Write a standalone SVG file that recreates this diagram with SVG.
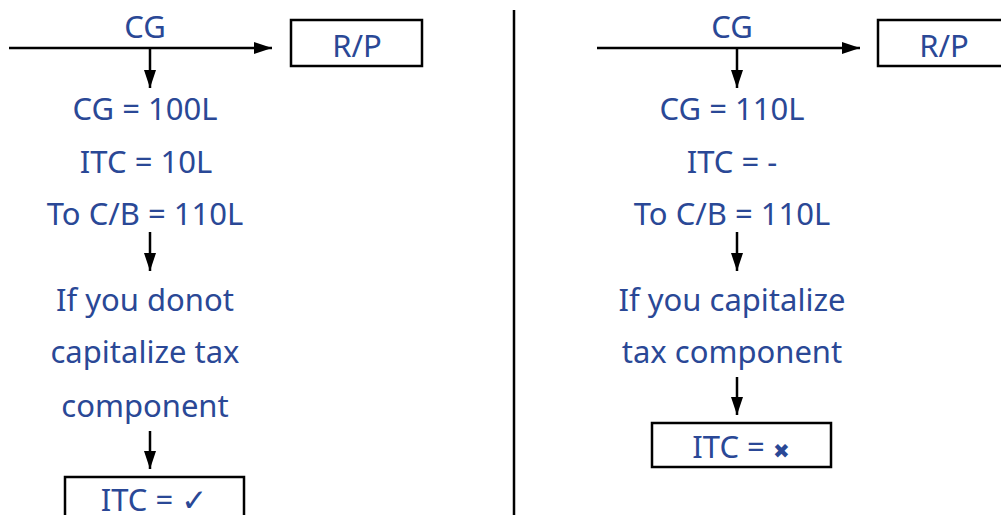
<svg xmlns="http://www.w3.org/2000/svg" width="1001" height="515" viewBox="0 0 1001 515">
<style>
.t{font-family:"Noto Sans","DejaVu Sans",sans-serif;font-size:31px;fill:#2a4896;text-anchor:middle}
.ln{stroke:#000;stroke-width:2.5;fill:none}
.bx{stroke:#000;stroke-width:2.5;fill:#fff}
</style>
<defs>
<marker id="ah" viewBox="0 0 18 12" refX="18" refY="6" markerWidth="18" markerHeight="12" markerUnits="userSpaceOnUse" orient="auto">
<path d="M0,0 L18,6 L0,12 Z" fill="#000"/>
</marker>
</defs>
<g id="connectors">
<line class="ln" x1="9" y1="48" x2="272" y2="48" marker-end="url(#ah)"/>
<line class="ln" x1="150" y1="48" x2="150" y2="88" marker-end="url(#ah)"/>
<line class="ln" x1="150" y1="232" x2="150" y2="271" marker-end="url(#ah)"/>
<line class="ln" x1="150" y1="431" x2="150" y2="469" marker-end="url(#ah)"/>
<line class="ln" x1="597" y1="48" x2="860" y2="48" marker-end="url(#ah)"/>
<line class="ln" x1="737" y1="48" x2="737" y2="88" marker-end="url(#ah)"/>
<line class="ln" x1="737" y1="232" x2="737" y2="271" marker-end="url(#ah)"/>
<line class="ln" x1="737" y1="377" x2="737" y2="415" marker-end="url(#ah)"/>
<line class="ln" x1="514" y1="10" x2="514" y2="515"/>
</g>
<g id="left-cg"><text class="t" x="145" y="38">CG</text></g>
<g id="left-rp"><rect class="bx" x="291" y="20" width="131" height="46"/><text class="t" x="357" y="57">R/P</text></g>
<g id="left-calc">
<text class="t" x="145" y="120">CG = 100L</text>
<text class="t" x="146" y="173">ITC = 10L</text>
<text class="t" x="145" y="225">To C/B = 110L</text>
</g>
<g id="left-cond">
<text class="t" x="145" y="311">If you donot</text>
<text class="t" x="145" y="363">capitalize tax</text>
<text class="t" x="145" y="417">component</text>
</g>
<g id="left-result"><rect class="bx" x="65" y="477" width="179" height="50"/><text class="t" x="154" y="511">ITC = ✓</text></g>
<g id="right-cg"><text class="t" x="732" y="38">CG</text></g>
<g id="right-rp"><rect class="bx" x="878" y="20" width="130" height="46"/><text class="t" x="944" y="57">R/P</text></g>
<g id="right-calc">
<text class="t" x="732" y="120">CG = 110L</text>
<text class="t" x="732" y="173">ITC = -</text>
<text class="t" x="732" y="225">To C/B = 110L</text>
</g>
<g id="right-cond">
<text class="t" x="732" y="311">If you capitalize</text>
<text class="t" x="732" y="363">tax component</text>
</g>
<g id="right-result"><rect class="bx" x="652" y="423" width="179" height="44"/><text class="t" x="741" y="458">ITC = <tspan font-size="20">✖</tspan></text></g>
</svg>
